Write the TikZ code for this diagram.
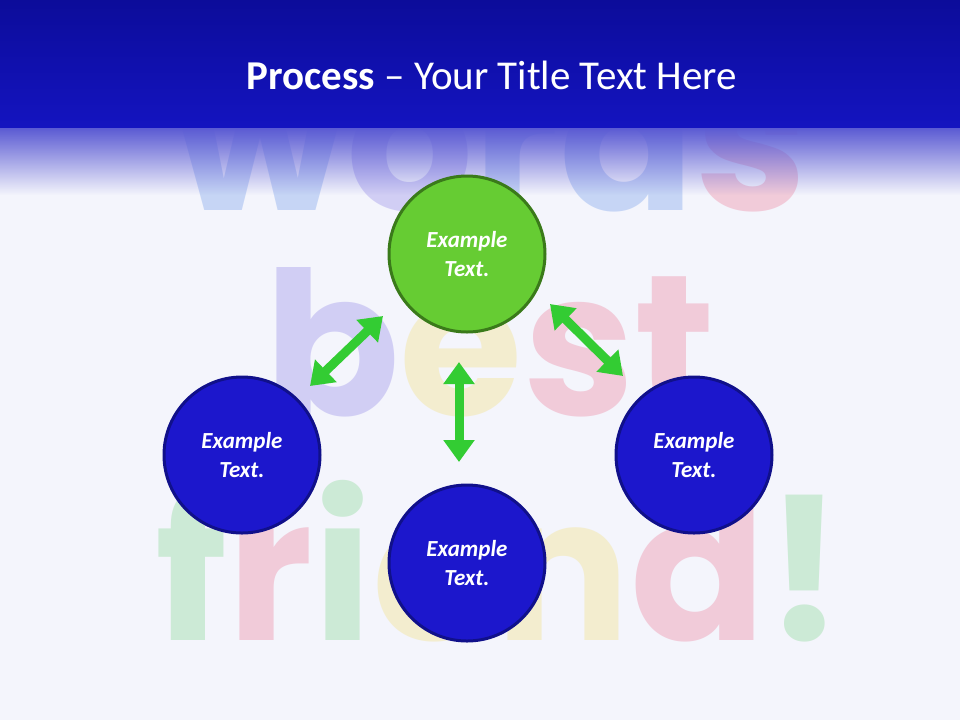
\documentclass[tikz,border=0pt]{standalone}
\usepackage{fontspec}
\setmainfont{Carlito}
\newfontfamily\bgfont{Poppins}
\usetikzlibrary{arrows.meta,fadings}
\definecolor{bgc}{HTML}{F4F5FC}
\definecolor{barc}{HTML}{1414C0}
\definecolor{bartop}{HTML}{0C0C9A}
\definecolor{grn}{HTML}{66CC33}
\definecolor{grnb}{HTML}{3A7A1A}
\definecolor{blu}{HTML}{1C17CC}
\definecolor{blub}{HTML}{10108A}
\definecolor{arr}{HTML}{33CC33}
\definecolor{lb}{HTML}{8FB0EE}
\definecolor{lp}{HTML}{A8A0EC}
\definecolor{pk}{HTML}{EE98B0}
\definecolor{yl}{HTML}{F2E49A}
\definecolor{gn}{HTML}{9CDDA8}
\begin{document}
\begin{tikzpicture}[x=0.5pt,y=-0.5pt,
  circ/.style={circle,line width=1.5pt,text=white,font=\bfseries\itshape\fontsize{11.5}{14.5}\selectfont,align=center,minimum size=78pt,inner sep=0pt},
  gc/.style={circ,fill=grn,draw=grnb},
  bc/.style={circ,fill=blu,draw=blub},
  dar/.style={arr,line width=4.5pt,{Triangle[length=11pt,width=15pt]}-{Triangle[length=11pt,width=15pt]}},
  bgw/.style={opacity=0.45,font=\bgfont\bfseries\fontsize{100}{100}\selectfont,inner sep=0pt,anchor=base}]
\useasboundingbox (0,0) rectangle (960,720);
\fill[bgc] (0,0) rectangle (960,720);
% background lettering
\node[bgw] (w1) at (490,210) {\textcolor{lb}{w}\textcolor{lp}{o}\textcolor{lb}{r}\textcolor{lb}{d}\textcolor{pk}{s}};
\node[bgw] (w2) at (490,415) {\textcolor{lp}{b}\textcolor{yl}{e}\textcolor{pk}{s}\textcolor{pk}{t}};
\node[bgw] (w3) at (500,640) {\textcolor{gn}{f}\textcolor{pk}{r}\textcolor{gn}{i}\textcolor{yl}{e}\textcolor{yl}{n}\textcolor{pk}{d}\textcolor{gn}{!}};
% title bar
\shade[top color=bartop,bottom color=barc] (0,0) rectangle (960,128);
\fill[barc!70!white,path fading=south] (0,128) rectangle (960,195);
\node[text=white,font=\fontsize{20.5}{24}\selectfont] (title) at (492,75) {\textbf{Process} -- Your Title Text Here};
% circles
\node[gc] (c1) at (467,254) {Example\\Text.};
\node[bc] (c2) at (242,455) {Example\\Text.};
\node[bc] (c3) at (694,455) {Example\\Text.};
\node[bc] (c4) at (467,563) {Example\\Text.};
% arrows
\coordinate (a1) at (310,386); \coordinate (a2) at (383,316);
\coordinate (b1) at (550,304); \coordinate (b2) at (623,376);
\coordinate (v1) at (459,362); \coordinate (v2) at (459,462);
\draw[dar] (a1) -- (a2);
\draw[dar] (b1) -- (b2);
\draw[dar] (v1) -- (v2);
\end{tikzpicture}
\end{document}
